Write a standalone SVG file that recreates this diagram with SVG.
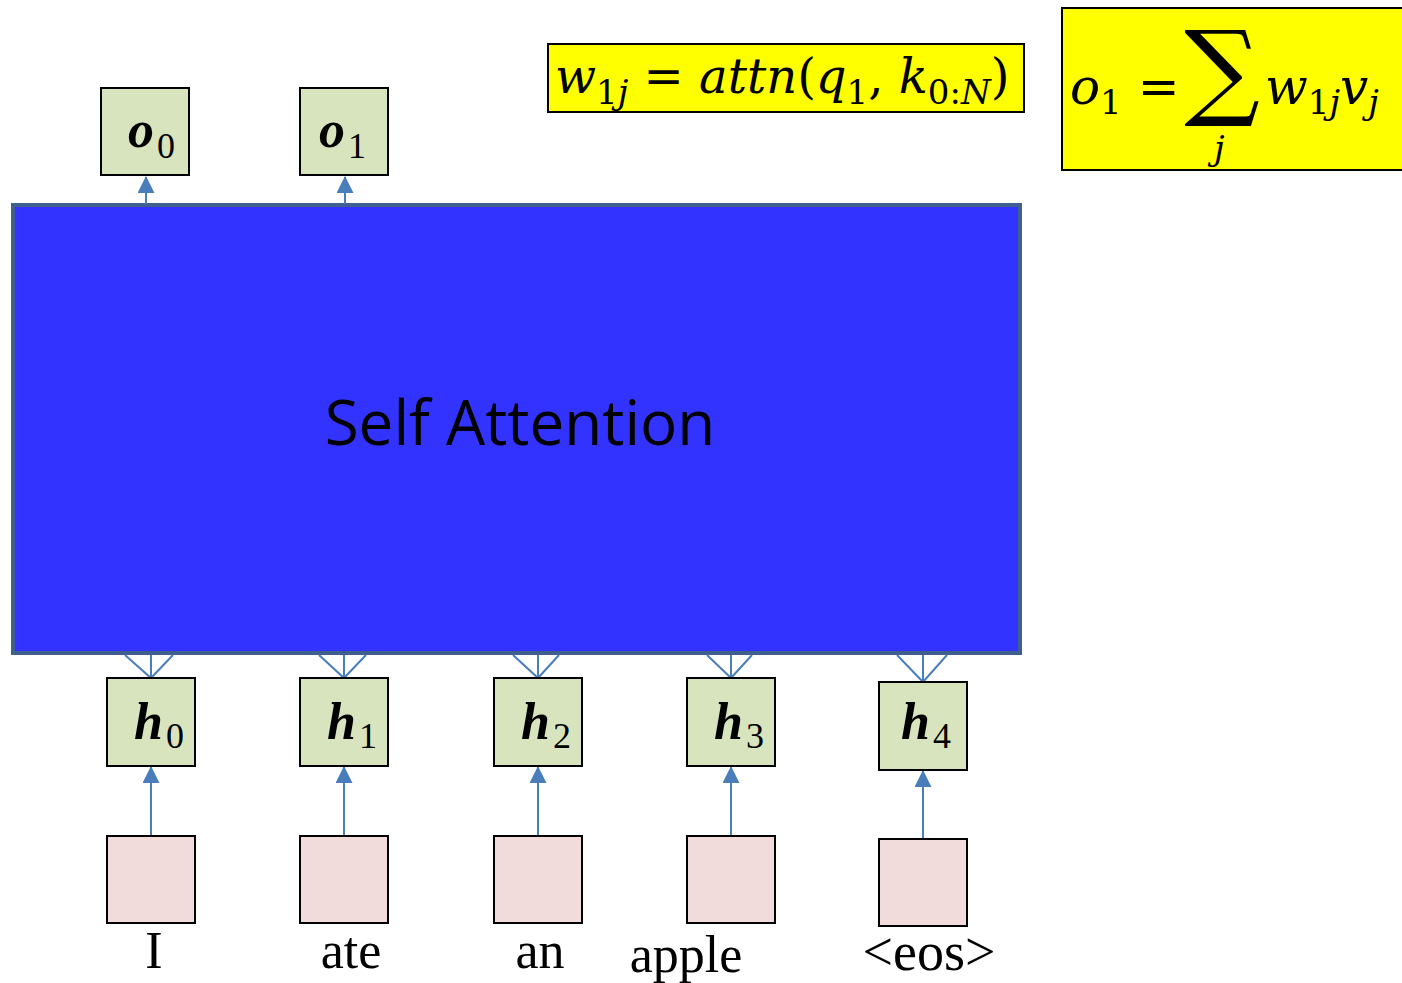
<svg xmlns="http://www.w3.org/2000/svg" width="1402" height="983" viewBox="0 0 1402 983">
<style>
.bg{fill:#ffffff}
.green{fill:#D7E4BD;stroke:#000;stroke-width:2}
.pink{fill:#F2DCDB;stroke:#000;stroke-width:2}
.yellow{fill:#FFFF00;stroke:#000;stroke-width:2}
.conn{stroke:#4A7EBB;stroke-width:2;fill:none}
.var{font-family:"Liberation Serif",serif;font-weight:bold;font-style:italic;font-size:52px;fill:#000}
.sub{font-family:"Liberation Serif",serif;font-size:36px;fill:#000}
.word{font-family:"Liberation Serif",serif;font-size:52px;fill:#000;text-anchor:middle}
.m{font-family:"DejaVu Serif",serif;font-size:50px;fill:#000}
.i{font-style:italic}
.s{font-size:34px}
</style>
<defs>
<marker id="ah" viewBox="0 0 16 16" refX="15" refY="8" markerWidth="17" markerHeight="17" markerUnits="userSpaceOnUse" orient="auto">
<path d="M0,0 L16,8 L0,16 Z" fill="#4A7EBB"/>
</marker>
</defs>
<rect class="bg" x="0" y="0" width="1402" height="983"/>

<g id="self-attention">
<rect x="13" y="205" width="1007" height="448" fill="#3333FF" stroke="#3F5F8E" stroke-width="4"/>
<text x="520" y="445" font-family="Open Sans, sans-serif" font-size="62" text-anchor="middle" fill="#000">Self Attention</text>
</g>

<g id="connectors">
<line class="conn" x1="146" y1="204" x2="146" y2="177" marker-end="url(#ah)"/>
<line class="conn" x1="345" y1="204" x2="345" y2="177" marker-end="url(#ah)"/>
<path class="conn" d="M125,655 L151,678 L173,655 M151,655 L151,678"/>
<path class="conn" d="M319,655 L344,678 L366,655 M344,655 L344,678"/>
<path class="conn" d="M513,655 L538,678 L559,655 M538,655 L538,678"/>
<path class="conn" d="M707,655 L731,678 L752,655 M731,655 L731,678"/>
<path class="conn" d="M897,655 L923,682 L947,655 M923,655 L923,682"/>
<line class="conn" x1="151" y1="836" x2="151" y2="767" marker-end="url(#ah)"/>
<line class="conn" x1="344" y1="836" x2="344" y2="767" marker-end="url(#ah)"/>
<line class="conn" x1="538" y1="836" x2="538" y2="767" marker-end="url(#ah)"/>
<line class="conn" x1="731" y1="836" x2="731" y2="767" marker-end="url(#ah)"/>
<line class="conn" x1="923" y1="839" x2="923" y2="771" marker-end="url(#ah)"/>
</g>

<g id="o0"><rect class="green" x="101" y="88" width="88" height="87"/><text class="var" x="128" y="147">o</text><text class="sub" x="157" y="158">0</text></g>
<g id="o1"><rect class="green" x="300" y="88" width="88" height="87"/><text class="var" x="319" y="147">o</text><text class="sub" x="348" y="158">1</text></g>

<g id="h0"><rect class="green" x="107" y="678" width="88" height="88"/><text class="var" x="134" y="739">h</text><text class="sub" x="166" y="748">0</text></g>
<g id="h1"><rect class="green" x="300" y="678" width="88" height="88"/><text class="var" x="327" y="739">h</text><text class="sub" x="359" y="748">1</text></g>
<g id="h2"><rect class="green" x="494" y="678" width="88" height="88"/><text class="var" x="521" y="739">h</text><text class="sub" x="553" y="748">2</text></g>
<g id="h3"><rect class="green" x="687" y="678" width="88" height="88"/><text class="var" x="714" y="739">h</text><text class="sub" x="746" y="748">3</text></g>
<g id="h4"><rect class="green" x="879" y="682" width="88" height="88"/><text class="var" x="901" y="739">h</text><text class="sub" x="933" y="748">4</text></g>

<g id="x0"><rect class="pink" x="107" y="836" width="88" height="87"/><text class="word" x="154" y="968">I</text></g>
<g id="x1"><rect class="pink" x="300" y="836" width="88" height="87"/><text class="word" x="351" y="968">ate</text></g>
<g id="x2"><rect class="pink" x="494" y="836" width="88" height="87"/><text class="word" x="540" y="968">an</text></g>
<g id="x3"><rect class="pink" x="687" y="836" width="88" height="87"/><text class="word" x="686" y="972">apple</text></g>
<g id="x4"><rect class="pink" x="879" y="839" width="88" height="87"/><text class="word" x="929" y="970" style="font-size:54px">&lt;eos&gt;</text></g>

<g id="formula-weights">
<rect class="yellow" x="548" y="44" width="476" height="68"/>
<text class="m" x="555" y="93" style="font-size:48px"><tspan class="i">w</tspan><tspan class="s" dy="11">1</tspan><tspan class="s i">j</tspan><tspan dy="-11"> = </tspan><tspan class="i">attn</tspan>(<tspan class="i">q</tspan><tspan class="s" dy="11">1</tspan><tspan dy="-11">, </tspan><tspan class="i">k</tspan><tspan class="s" dy="11">0:</tspan><tspan class="s i">N</tspan><tspan dy="-11">)</tspan></text>
</g>

<g id="formula-output">
<rect class="yellow" x="1062" y="8" width="342" height="162"/>
<text class="m" x="1070" y="104"><tspan class="i">o</tspan><tspan class="s" dy="10">1</tspan><tspan dy="-10"> =</tspan></text>
<text x="1222" y="106" font-family="DejaVu Serif, serif" font-size="106" text-anchor="middle" fill="#000">∑</text>
<text class="m" x="1214" y="160"><tspan class="s i">j</tspan></text>
<text class="m" x="1265" y="104"><tspan class="i">w</tspan><tspan class="s" dy="10">1</tspan><tspan class="s i">j</tspan><tspan class="i" dy="-10">v</tspan><tspan class="s i" dy="10">j</tspan></text>
</g>
</svg>
